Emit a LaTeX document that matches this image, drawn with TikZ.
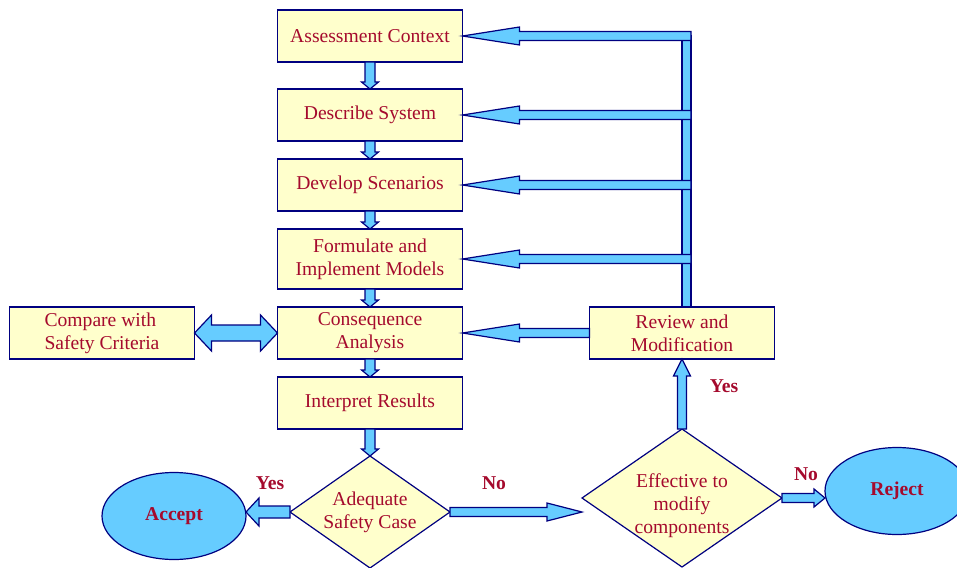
\documentclass[tikz,border=0pt]{standalone}
\usepackage{fontspec}
\setmainfont{Liberation Serif}
\usetikzlibrary{positioning,calc,shapes.geometric}

\definecolor{navy}{HTML}{000080}
\definecolor{boxfill}{HTML}{FFFFCC}
\definecolor{arrowblue}{HTML}{66CCFF}
\definecolor{textred}{HTML}{A50A2D}

\begin{document}
\begin{tikzpicture}[
      x=1pt, y=-1pt,
      every node/.style={font=\fontsize{19.6pt}{23pt}\selectfont, text=textred},
      stepbox/.style={rectangle, draw=navy, fill=boxfill, line width=1.2pt, outer sep=0pt,
        minimum width=185pt, minimum height=52pt, align=center},
      decision/.style={diamond, draw=navy, fill=boxfill, line width=1.2pt, outer sep=0pt,
        inner sep=0pt, minimum width=160pt, minimum height=112pt},
      dtext/.style={align=center},
      endpoint/.style={ellipse, draw=navy, fill=arrowblue, line width=1.2pt, outer sep=0pt,
        minimum width=144pt, minimum height=87pt, font=\fontsize{19.6pt}{23pt}\bfseries},
      answer/.style={font=\fontsize{19.6pt}{23pt}\bfseries},
      fat/.style n args={3}{draw=navy, fill=arrowblue, line width=1.2pt,
        to path={let \p1=($(\tikztotarget)!#3!(\tikztostart)$) in
          ($(\tikztostart)!#1!90:(\tikztotarget)$)
          -- ($(\p1)!#1!90:(\tikztotarget)$)
          -- ($(\p1)!#2!90:(\tikztotarget)$)
          -- (\tikztotarget)
          -- ($(\p1)!#2!-90:(\tikztotarget)$)
          -- ($(\p1)!#1!-90:(\tikztotarget)$)
          -- ($(\tikztostart)!#1!-90:(\tikztotarget)$) -- cycle}},
      fattwo/.style n args={3}{draw=navy, fill=arrowblue, line width=1.2pt,
        to path={let \p1=($(\tikztostart)!#3!(\tikztotarget)$),
                     \p2=($(\tikztotarget)!#3!(\tikztostart)$) in
          (\tikztostart)
          -- ($(\p1)!#2!90:(\tikztotarget)$)
          -- ($(\p1)!#1!90:(\tikztotarget)$)
          -- ($(\p2)!#1!90:(\tikztotarget)$)
          -- ($(\p2)!#2!90:(\tikztotarget)$)
          -- (\tikztotarget)
          -- ($(\p2)!#2!-90:(\tikztotarget)$)
          -- ($(\p2)!#1!-90:(\tikztotarget)$)
          -- ($(\p1)!#1!-90:(\tikztotarget)$)
          -- ($(\p1)!#2!-90:(\tikztotarget)$) -- cycle}},
      down/.style={fat={5pt}{8.5pt}{7pt}},
      back/.style={fat={4.5pt}{9pt}{57pt}}
    ]
    \useasboundingbox (0,0) rectangle (957,567);

    % main column
    \node[stepbox] (ctx) at (370,36) {Assessment Context};
    \node[stepbox, below=27pt of ctx] (desc) {Describe System};
    \node[stepbox, below=18pt of desc] (dev) {Develop Scenarios};
    \node[stepbox, below=18pt of dev, minimum height=60pt] (form) {Formulate and\\Implement Models};
    \node[stepbox, below=18pt of form] (cons) {Consequence\\Analysis};
    \node[stepbox, below=18pt of cons] (interp) {Interpret Results};
    \node[stepbox, left=83pt of cons, align=left] (cmp) {Compare with\\Safety Criteria};
    \node[stepbox, right=127pt of cons] (rev) {Review and\\Modification};

    % decisions and outcomes
    \node[decision, below=27pt of interp,
          label={[dtext]center:Adequate\\Safety Case}] (adeq) {};
    \node[decision, below=70pt of rev, minimum width=200pt, minimum height=138pt,
          label={[dtext, yshift=-8pt]center:Effective to\\modify\\components}] (eff) {};
    \node[endpoint] (acc) at (174,516) {Accept};
    \node[endpoint] (rej) at (897,491) {Reject};

    % feedback bar
    \coordinate (bartop) at (691,36);
    \draw[draw=navy, fill=arrowblue, line width=1.2pt] (rev.north) rectangle (bartop);
    \foreach \b in {ctx,desc,dev,form}
      \draw[back] (bartop |- \b.east) to (\b.east);
    \draw[back] (rev.west) to (cons.east);

    \foreach \a/\b in {ctx/desc,desc/dev,dev/form,form/cons,cons/interp}
      \draw[down] (\a.south) to (\b.north);
    \draw[down] (interp.south) to (adeq.north);

    \draw[fattwo={8pt}{18pt}{17pt}] (cmp.east) to (cons.west);
    \draw[fat={6pt}{14pt}{13pt}] (adeq.west) to (acc.east |- adeq.west);
    \draw[fat={4.5pt}{9pt}{35pt}] (adeq.east) to (eff.west |- adeq.east);
    \draw[fat={4.5pt}{8.5pt}{17pt}] (eff.north) to (rev.south);
    \draw[fat={4.5pt}{9pt}{11pt}] (eff.east) to (rej.west |- eff.east);

    \node[answer] (yes1) at (270,483) {Yes};
    \node[answer] (no1) at (494,483) {No};
    \node[answer] (yes2) at (724,386) {Yes};
    \node[answer] (no2) at (806,474) {No};

    \end{tikzpicture}
\end{document}
